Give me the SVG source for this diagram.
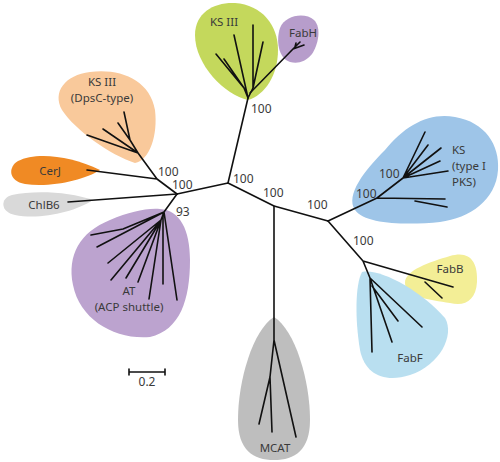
<svg xmlns="http://www.w3.org/2000/svg" width="500" height="462" viewBox="0 0 500 462">
<style>
text{font-family:"Noto Sans","Liberation Sans",sans-serif;font-size:11.5px;fill:#3a3a3a}
.m{text-anchor:middle}
.n{font-size:12px}
.e{fill:none;stroke:#111;stroke-width:1.6;stroke-linecap:round;stroke-linejoin:round}
</style>
<rect width="500" height="462" fill="#fff"/>
<g id="ks3">
<path d="M248 100 C225 95 195 65 195 35 C195 12 215 2 235 3 C262 5 278 25 278 50 C278 75 265 95 248 100 Z" fill="#C4D85C"/>
<text class="m" x="224" y="26">KS III</text>
</g>
<g id="fabh">
<path d="M290 62 C278 58 276 40 280 28 C285 15 305 12 314 20 C322 28 318 45 312 54 C305 62 298 64 290 62 Z" fill="#B79DCB"/>
<text class="m" x="303" y="37">FabH</text>
</g>
<g id="dpsc">
<path d="M135 163 C110 155 75 130 62 110 C52 92 65 75 90 72 C120 68 150 80 155 110 C158 135 150 160 135 163 Z" fill="#F9C99B"/>
<text class="m" x="102" y="86">KS III</text>
<text class="m" x="102" y="102">(DpsC-type)</text>
</g>
<g id="cerj">
<path d="M100 170 C85 180 50 188 25 184 C8 181 8 167 18 161 C35 152 70 155 100 170 Z" fill="#F08A24"/>
<text class="m" x="50" y="175">CerJ</text>
</g>
<g id="chlb6">
<path d="M93 200 C75 212 40 220 15 215 C0 212 0 198 12 195 C35 190 70 192 93 200 Z" fill="#D9D9D9"/>
<text class="m" x="44" y="209">ChlB6</text>
</g>
<g id="at">
<path d="M160 209 C180 210 190 230 190 260 C190 300 180 330 150 337 C115 340 80 320 73 285 C67 255 80 232 110 220 C130 212 145 208 160 209 Z" fill="#BCA3CF"/>
<text class="m" x="129" y="295">AT</text>
<text class="m" x="129" y="311">(ACP shuttle)</text>
</g>
<g id="mcat">
<path d="M274 317 C295 330 310 380 310 420 C310 450 295 460 274 460 C253 460 238 450 238 420 C238 380 253 330 274 317 Z" fill="#BEBEBE"/>
<text class="m" x="275" y="452">MCAT</text>
</g>
<g id="ks">
<path d="M355 210 C345 195 365 170 385 150 C405 125 430 112 455 117 C485 122 500 145 498 170 C496 200 470 218 440 222 C410 225 365 225 355 210 Z" fill="#9EC5E8"/>
<text x="452" y="154">KS</text>
<text x="452" y="170">(type I</text>
<text x="452" y="186">PKS)</text>
</g>
<g id="fabb">
<path d="M405 283 C405 270 430 262 450 256 C470 250 478 262 477 282 C476 300 465 307 450 303 C430 300 405 297 405 283 Z" fill="#F3EE96"/>
<text class="m" x="450" y="273">FabB</text>
</g>
<g id="fabf">
<path d="M362 272 C380 268 420 290 445 318 C455 335 440 365 410 375 C385 383 365 375 360 350 C355 320 355 285 362 272 Z" fill="#B9DFF0"/>
<text class="m" x="410" y="362">FabF</text>
</g>
<g id="connectors" class="e">
<path d="M177 194 L228 183 L274 206 L328 221"/>
<path d="M228 183 L248 98"/>
<path d="M248 98 L244 88 L216 54 M244 88 L224 59 M248 98 L234 35 M248 98 L253 88 L253 25 M253 88 L263 42"/>
<path d="M250 93 L293 49 L304 45 M293 49 L300 42 M295 47 L296 43"/>
<path d="M177 194 L157 179 L87 170 M157 179 L138 153 L87 135 M138 153 L103 129 M138 153 L130 140 L118 123 M130 140 L124 112"/>
<path d="M177 194 L68 202"/>
<path d="M177 194 L164 212 L123 229 L91 235 M164 212 L97 247 M164 212 L161 220 L108 263 M161 220 L111 280 M161 220 L126 278 M161 220 L138 282 M161 220 L149 299 M163 214 L163 284 M164 212 L177 300"/>
<path d="M274 206 L274 340 L296 437 M274 340 L270 377 L259 424 M270 377 L272 432"/>
<path d="M328 221 L377 198 L445 199 M415 201 L447 207 M377 198 L403 178 L425 132 M403 178 L428 145 M403 178 L441 148 M403 178 L440 161 M403 178 L448 171"/>
<path d="M328 221 L363 261 L453 287 M425 282 L442 298 M363 261 L370 278 L372 352 M370 278 L392 342 M372 286 L398 321 M370 278 L422 327"/>
</g>
<g id="labels">
<text class="n" x="158" y="176">100</text>
<text class="n" x="172" y="189">100</text>
<text class="n" x="176" y="216">93</text>
<text class="n" x="233" y="183">100</text>
<text class="n" x="263" y="197">100</text>
<text class="n" x="307" y="209">100</text>
<text class="n" x="251" y="113">100</text>
<text class="n" x="356" y="198">100</text>
<text class="n" x="379" y="178">100</text>
<text class="n" x="353" y="245">100</text>
</g>
<g id="scale">
<path class="e" d="M129 372 H165 M129 369 V375 M165 369 V375"/>
<text class="m n" x="147" y="386">0.2</text>
</g>
</svg>
